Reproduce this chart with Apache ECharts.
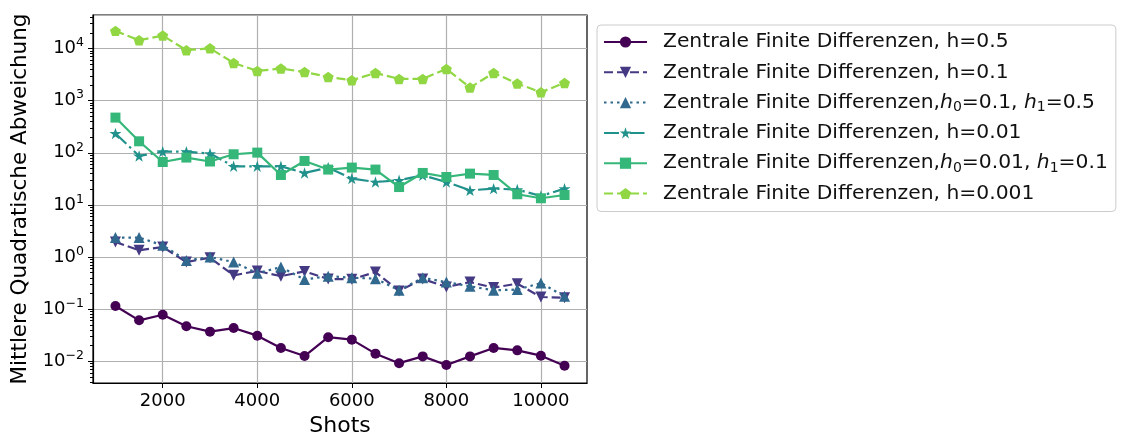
<!DOCTYPE html>
<html>
<head>
<meta charset="utf-8">
<script src="https://cdn.jsdelivr.net/npm/echarts@6/dist/echarts.min.js"></script>
<style>
  html, body { margin: 0; padding: 0; background: #fff; }
  #chart { width: 1129px; height: 437px; }
</style>
</head>
<body>
<div id="chart"></div>
<script>
// Number of shots per run
const shots = [1000, 1500, 2000, 2500, 3000, 3500, 4000, 4500, 5000, 5500,
               6000, 6500, 7000, 7500, 8000, 8500, 9000, 9500, 10000, 10500];

// Mean squared error per method
const mseH05 = [0.115, 0.061, 0.078, 0.047, 0.037, 0.0434, 0.031, 0.018, 0.0126, 0.029,
                0.026, 0.014, 0.0092, 0.0124, 0.00845, 0.0124, 0.018, 0.0162, 0.0128, 0.0082];
const mseH01 = [1.94, 1.35, 1.56, 0.80, 0.97, 0.446, 0.54, 0.43, 0.53, 0.38,
                0.373, 0.515, 0.223, 0.38, 0.266, 0.33, 0.259, 0.308, 0.171, 0.165];
const mseH01H05 = [2.36, 2.36, 1.68, 0.86, 1.0, 0.80, 0.49, 0.64, 0.37, 0.43,
                   0.40, 0.385, 0.23, 0.40, 0.33, 0.274, 0.23, 0.237, 0.317, 0.176];
const mseH001 = [235, 86.9, 105, 105, 96.6, 55, 55, 55, 41, 52,
                 32, 27.5, 29.6, 37, 27.5, 19, 20.5, 19.7, 14.8, 20.5];
const mseH001H01 = [473, 166, 66.5, 80.9, 68, 93.6, 100.7, 37.5, 69.6, 47.6,
                    52, 47.6, 22, 41, 34.3, 39.8, 37.5, 16, 13.4, 15.5];
const mseH0001 = [21800, 14400, 17700, 9270, 10100, 5290, 3720, 4130, 3550, 2850,
                  2460, 3400, 2610, 2610, 4060, 1780, 3400, 2130, 1450, 2190];

// Legend names (plain) and their rich-text forms
const seriesNames = [
  'Zentrale Finite Differenzen, h=0.5',
  'Zentrale Finite Differenzen, h=0.1',
  'Zentrale Finite Differenzen,h0=0.1, h1=0.5',
  'Zentrale Finite Differenzen, h=0.01',
  'Zentrale Finite Differenzen,h0=0.01, h1=0.1',
  'Zentrale Finite Differenzen, h=0.001'
];
const legendRich = [
  'Zentrale Finite Differenzen, h=0.5',
  'Zentrale Finite Differenzen, h=0.1',
  'Zentrale Finite Differenzen,{i|h}{s|0}=0.1, {i|h}{s|1}=0.5',
  'Zentrale Finite Differenzen, h=0.01',
  'Zentrale Finite Differenzen,{i|h}{s|0}=0.01, {i|h}{s|1}=0.1',
  'Zentrale Finite Differenzen, h=0.001'
];

// Axis ticks
const xTicks = [2000, 4000, 6000, 8000, 10000];
const yDecades = [0.01, 0.1, 1, 10, 100, 1000, 10000];
const X_MIN = 525, X_MAX = 10975;
const Y_MIN = 0.00383, Y_MAX = 43950;

const colors = ['#440154', '#443983', '#31688e', '#21918c', '#35b779', '#90d743'];

const FONT = 'DejaVu Sans';
const STAR = 'path://M0,-1 L0.2245,-0.309 L0.951,-0.309 L0.3633,0.118 L0.588,0.809 L0,0.382 L-0.588,0.809 L-0.3633,0.118 L-0.951,-0.309 L-0.2245,-0.309 Z';
const PENTAGON = 'path://M0,-1 L0.951,-0.309 L0.588,0.809 L-0.588,0.809 L-0.951,-0.309 Z';

// Tick positions in log10 space for the tick-only helper axes
const logMin = Math.log10(Y_MIN), logMax = Math.log10(Y_MAX);
const majorLog = yDecades.map(v => Math.log10(v));
const minorLog = [];
for (let d = -3; d <= 4; d++) {
  for (let k = 2; k <= 9; k++) {
    const v = k * Math.pow(10, d);
    if (v > Y_MIN && v < Y_MAX) minorLog.push(Math.log10(v));
  }
}

function pairs(vals) { return shots.map((s, i) => [s, vals[i]]); }

function supLabel(v) {
  const e = Math.round(Math.log10(v));
  return '{b|10}{e|' + String(e).replace('-', '\u2212') + '}';
}

const seriesDefs = [
  { data: mseH05,     symbol: 'circle',   size: 10, rotate: 0,   type: 'solid' },
  { data: mseH01,     symbol: 'triangle', size: 11, rotate: 180, type: [9, 4] },
  { data: mseH01H05,  symbol: 'triangle', size: 11, rotate: 0,   type: [2.5, 4] },
  { data: mseH001,    symbol: STAR,       size: 12, rotate: 0,   type: [15, 4, 2.5, 4] },
  { data: mseH001H01, symbol: 'rect',     size: 10, rotate: 0,   type: 'solid' },
  { data: mseH0001,   symbol: PENTAGON,   size: 11, rotate: 0,   type: [9, 4] }
];

const chart = echarts.init(document.getElementById('chart'), null, { renderer: 'canvas' });

const helperY = (ticks, len) => ({
  type: 'value',
  position: 'left',
  min: logMin,
  max: logMax,
  axisLine: { show: false, onZero: false },
  axisLabel: { show: false },
  splitLine: { show: false },
  axisTick: { show: true, customValues: ticks, length: len, lineStyle: { color: '#000', width: 1 } }
});

chart.setOption({
  animation: false,
  textStyle: { fontFamily: FONT },
  grid: {
    left: 93, right: 542, top: 15, bottom: 54,
    show: true, borderColor: '#000', borderWidth: 1.2, backgroundColor: 'transparent',
    containLabel: false, outerBoundsMode: 'none'
  },
  xAxis: {
    type: 'value',
    min: X_MIN, max: X_MAX,
    name: 'Shots', nameLocation: 'middle', nameGap: 30,
    nameTextStyle: { fontSize: 22, color: '#000', fontFamily: FONT },
    axisLine: { show: true, onZero: false, lineStyle: { color: '#000', width: 1.2 } },
    axisTick: { show: true, customValues: xTicks, length: 5, lineStyle: { color: '#000', width: 1 } },
    axisLabel: {
      customValues: xTicks, margin: 9, fontSize: 18, color: '#000', fontFamily: FONT,
      formatter: v => String(Math.round(v))
    },
    splitLine: { show: true, lineStyle: { color: '#b0b0b0', width: 1.2 } }
  },
  yAxis: [
    {
      type: 'log', logBase: 10,
      min: Y_MIN, max: Y_MAX,
      name: 'Mittlere Quadratische Abweichung', nameLocation: 'middle', nameGap: 62,
      nameTextStyle: { fontSize: 21.5, color: '#000', fontFamily: FONT },
      axisLine: { show: true, onZero: false, lineStyle: { color: '#000', width: 1.2 } },
      axisTick: { show: false },
      axisLabel: {
        margin: 9, showMinLabel: false, showMaxLabel: false,
        formatter: supLabel,
        rich: {
          b: { fontSize: 18, color: '#000', fontFamily: FONT, lineHeight: 24 },
          e: { fontSize: 12.5, color: '#000', fontFamily: FONT, verticalAlign: 'top', lineHeight: 14 }
        }
      },
      splitLine: { show: true, lineStyle: { color: '#b0b0b0', width: 1.2 } }
    },
    helperY(majorLog, 5),
    helperY(minorLog, 3)
  ],
  legend: {
    orient: 'vertical',
    left: 597, top: 25,
    padding: [5, 8, 6, 6],
    itemWidth: 43, itemHeight: 14, itemGap: 6.3,
    borderColor: '#cccccc', borderWidth: 1, borderRadius: 4,
    backgroundColor: '#fff',
    data: seriesNames,
    formatter: name => legendRich[seriesNames.indexOf(name)],
    textStyle: {
      fontSize: 20.3, color: '#111', fontFamily: FONT, lineHeight: 24,
      padding: [0, 0, 0, 11],
      rich: {
        i: { fontSize: 20.3, fontStyle: 'italic', color: '#111', fontFamily: FONT, lineHeight: 24 },
        s: { fontSize: 14, color: '#111', fontFamily: FONT, verticalAlign: 'bottom', lineHeight: 18 }
      }
    }
  },
  series: seriesDefs.map((d, i) => ({
    name: seriesNames[i],
    type: 'line',
    yAxisIndex: 0,
    data: pairs(d.data),
    symbol: d.symbol,
    symbolSize: d.size,
    symbolRotate: d.rotate,
    symbolKeepAspect: true,
    showAllSymbol: true,
    color: colors[i],
    itemStyle: { color: colors[i], borderWidth: 0 },
    lineStyle: { color: colors[i], width: 2.2, type: d.type },
    z: 2 + i
  }))
});
</script>
</body>
</html>
